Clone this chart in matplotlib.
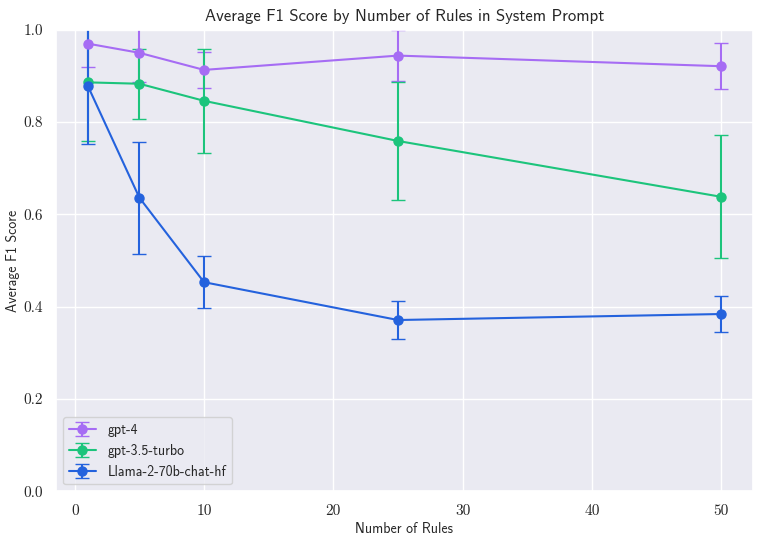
import matplotlib
matplotlib.use("Agg")
import matplotlib.pyplot as plt
import seaborn as sns

sns.set_theme(style="darkgrid")
plt.rcParams['font.family'] = ['cmss10', 'DejaVu Sans']
plt.rcParams['axes.unicode_minus'] = False
plt.rcParams['mathtext.fontset'] = 'cm'

rules = [1, 5, 10, 25, 50]
models = ["gpt-4", "gpt-3.5-turbo", "Llama-2-70b-chat-hf"]
gpt4_mean = [0.970, 0.950, 0.913, 0.944, 0.921]
gpt4_err = [0.051, 0.063, 0.039, 0.055, 0.050]
gpt35_mean = [0.886, 0.883, 0.846, 0.759, 0.638]
gpt35_err = [0.127, 0.076, 0.113, 0.127, 0.133]
llama_mean = [0.879, 0.636, 0.453, 0.371, 0.384]
llama_err = [0.127, 0.121, 0.056, 0.042, 0.039]

colors = ["#a66cf4", "#1cc47c", "#2462dd"]

fig, ax = plt.subplots(figsize=(7.62, 5.41), dpi=100)
for name, m, e, c in zip(models, [gpt4_mean, gpt35_mean, llama_mean],
                         [gpt4_err, gpt35_err, llama_err], colors):
    ax.errorbar(rules, m, yerr=e, color=c, marker='o', markersize=6.5,
                capsize=5, linewidth=1.5, label=name)

ax.set_ylim(0, 1.0)
ax.set_title("Average F1 Score by Number of Rules in System Prompt", fontsize=12)
ax.set_xlabel("Number of Rules", fontsize=10, labelpad=3)
ax.set_ylabel("Average F1 Score", fontsize=10, labelpad=2)
for lab in ax.get_xticklabels() + ax.get_yticklabels():
    lab.set_fontfamily('cmr10')
    lab.set_fontsize(11)
ax.legend(loc="lower left", fontsize=10, borderaxespad=0.5)
fig.subplots_adjust(left=0.0735, right=0.988, top=0.945, bottom=0.092)
fig.savefig("out.png", dpi=100)
